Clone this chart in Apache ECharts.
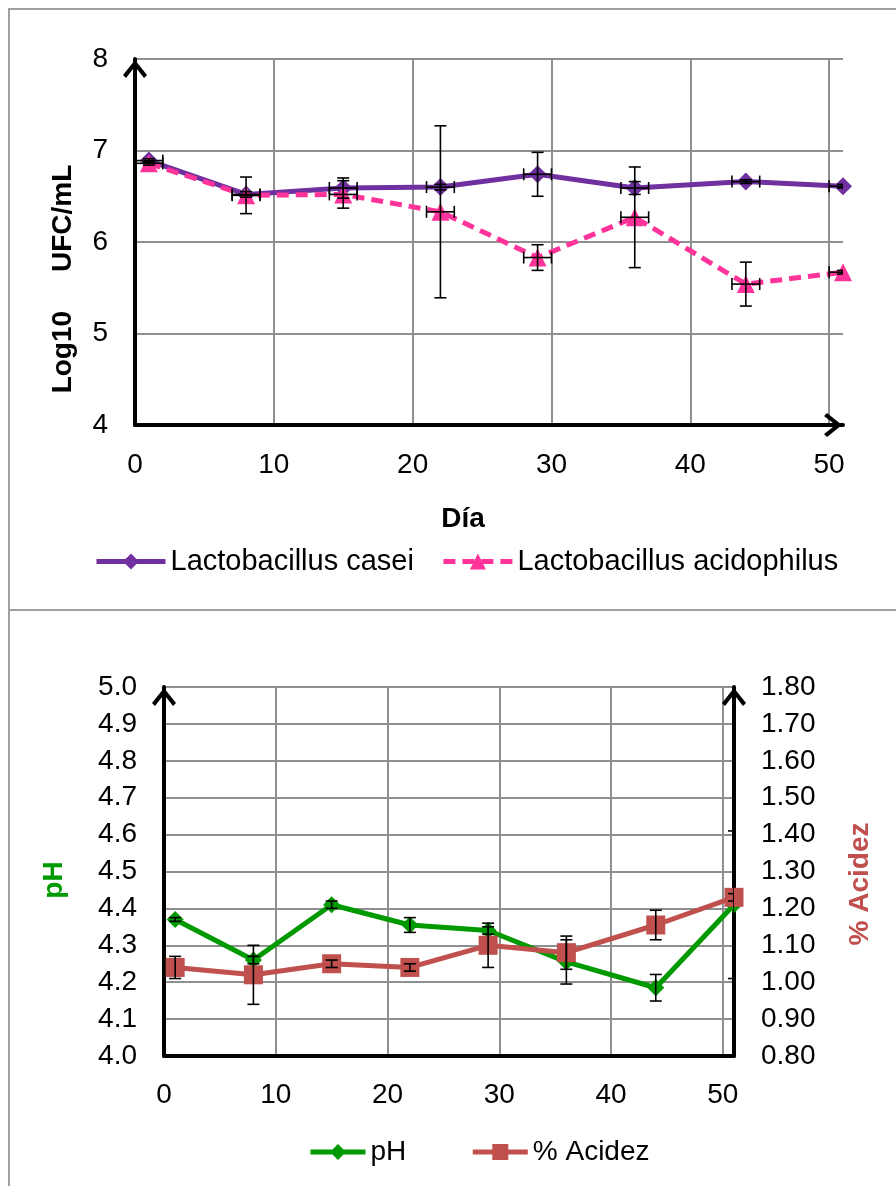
<!DOCTYPE html>
<html>
<head>
<meta charset="utf-8">
<script src="https://cdn.jsdelivr.net/npm/echarts@6/dist/echarts.min.js"></script>
<style>
  html, body { margin: 0; padding: 0; background: #fff; }
  #chart { width: 896px; height: 1186px; }
</style>
</head>
<body>
<div id="chart"></div>
<script>
// days of sampling
var days = [1, 8, 15, 22, 29, 36, 44, 51];
var dayErr = [1, 1, 1, 1, 1, 1, 1, 1];

// Log10 UFC/mL
var casei = [6.89, 6.52, 6.59, 6.60, 6.74, 6.59, 6.66, 6.61];
var caseiErr = [0.02, 0.03, 0.11, 0.03, 0.24, 0.07, 0.02, 0.02];
var acido = [6.86, 6.51, 6.52, 6.33, 5.83, 6.27, 5.54, 5.67];
var acidoErr = [0.02, 0.20, 0.15, 0.94, 0.14, 0.55, 0.24, 0.02];

// pH and % acidez
var ph = [4.37, 4.26, 4.41, 4.355, 4.34, 4.255, 4.185, 4.41];
var phErr = [0.005, 0.01, 0.01, 0.02, 0.01, 0.06, 0.036, 0.2];
var acidez = [1.04, 1.02, 1.05, 1.04, 1.10, 1.08, 1.155, 1.23];
var acidezErr = [0.03, 0.08, 0.01, 0.01, 0.06, 0.045, 0.04, 0.01];

var chart = echarts.init(document.getElementById('chart'));
var FONT = '"Liberation Sans", Arial, sans-serif';
var CHEVRON = 'path://M12,0 L24,15 L21,18 L12,6.5 L3,18 L0,15 Z';

function zip(xs, ys, exs, eys) {
    return xs.map(function (x, i) {
        return exs ? [x, ys[i], exs[i], eys[i]] : [x, ys[i]];
    });
}

// error bars (vertical + horizontal) drawn through the axes
function renderErr(params, api) {
    var x = api.value(0), y = api.value(1), ex = api.value(2), ey = api.value(3);
    var cap = 6;
    var kids = [];
    var st = { stroke: '#000', lineWidth: 1.6 };
    if (ey > 0) {
        var lo = api.coord([x, y - ey]), hi = api.coord([x, y + ey]);
        kids.push({ type: 'line', shape: { x1: lo[0], y1: lo[1], x2: hi[0], y2: hi[1] }, style: st });
        kids.push({ type: 'line', shape: { x1: lo[0] - cap, y1: lo[1], x2: lo[0] + cap, y2: lo[1] }, style: st });
        kids.push({ type: 'line', shape: { x1: hi[0] - cap, y1: hi[1], x2: hi[0] + cap, y2: hi[1] }, style: st });
    }
    if (ex > 0) {
        var l = api.coord([x - ex, y]), r = api.coord([x + ex, y]);
        kids.push({ type: 'line', shape: { x1: l[0], y1: l[1], x2: r[0], y2: r[1] }, style: st });
        kids.push({ type: 'line', shape: { x1: l[0], y1: l[1] - cap, x2: l[0], y2: l[1] + cap }, style: st });
        kids.push({ type: 'line', shape: { x1: r[0], y1: r[1] - cap, x2: r[0], y2: r[1] + cap }, style: st });
    }
    return { type: 'group', children: kids };
}

var zeros = days.map(function () { return 0; });
var gridLine = { show: true, lineStyle: { color: '#8f8f8f', width: 2 } };
var axisBlack = function (arrow) {
    return {
        show: true,
        symbol: arrow ? ['none', CHEVRON] : ['none', 'none'],
        symbolSize: [24, 20],
        symbolOffset: [0, -10],
        lineStyle: { color: '#000', width: 4 }
    };
};
var lbl = { color: '#000', fontSize: 28, fontFamily: FONT };

option = {
    animation: false,
    textStyle: { fontFamily: FONT },
    graphic: [
        { type: 'rect', shape: { x: 9, y: 9, width: 900, height: 601 }, style: { fill: 'none', stroke: '#a0a0a0', lineWidth: 2 }, z: -1 },
        { type: 'rect', shape: { x: 9, y: 610, width: 900, height: 600 }, style: { fill: 'none', stroke: '#a0a0a0', lineWidth: 2 }, z: -1 },
        { type: 'text', x: 63, y: 279, rotation: Math.PI / 2,
          style: { text: 'Log10     UFC/mL', font: 'bold 28px ' + FONT, fill: '#000', align: 'center', verticalAlign: 'middle' } },
        { type: 'text', x: 463, y: 519,
          style: { text: 'Día', font: 'bold 28px ' + FONT, fill: '#000', align: 'center', verticalAlign: 'middle' } },
        { type: 'text', x: 54, y: 880, rotation: Math.PI / 2,
          style: { text: 'pH', font: 'bold 28px ' + FONT, fill: '#009900', align: 'center', verticalAlign: 'middle' } },
        { type: 'text', x: 860, y: 884, rotation: Math.PI / 2,
          style: { text: '% Acidez', font: 'bold 28px ' + FONT, fill: '#C0504D', align: 'center', verticalAlign: 'middle' } }
    ],
    legend: [{
        data: ['Lactobacillus casei', 'Lactobacillus acidophilus'],
        left: 94, top: 547, padding: 0,
        itemWidth: 69, itemHeight: 20, itemGap: 27,
        lineStyle: { width: 5 },
        textStyle: { fontSize: 29, color: '#000', fontFamily: FONT }
    }, {
        data: ['pH', '% Acidez'],
        left: 308, top: 1138, padding: 0,
        itemWidth: 55, itemHeight: 20, itemGap: 64,
        lineStyle: { width: 5 },
        textStyle: { fontSize: 28, color: '#000', fontFamily: FONT }
    }],
    grid: [
        { left: 135, top: 59, width: 708, height: 366, outerBoundsMode: 'none' },
        { left: 164, top: 687, width: 570, height: 369, outerBoundsMode: 'none' }
    ],
    xAxis: [{
        gridIndex: 0, type: 'value', min: 0, max: 51, interval: 10,
        axisLine: axisBlack(true), axisTick: { show: false },
        axisLabel: Object.assign({ margin: 26, showMaxLabel: false }, lbl),
        splitLine: Object.assign({ showMinLine: false, showMaxLine: false }, gridLine)
    }, {
        gridIndex: 1, type: 'value', min: 0, max: 51, interval: 10,
        axisLine: axisBlack(false), axisTick: { show: false },
        axisLabel: Object.assign({ margin: 25, showMaxLabel: false }, lbl),
        splitLine: Object.assign({ showMinLine: false, showMaxLine: false }, gridLine)
    }],
    yAxis: [{
        gridIndex: 0, type: 'value', min: 4, max: 8, interval: 1,
        axisLine: axisBlack(true), axisTick: { show: false },
        axisLabel: Object.assign({ margin: 27 }, lbl),
        splitLine: Object.assign({ showMinLine: false }, gridLine)
    }, {
        gridIndex: 1, type: 'value', min: 4.0, max: 5.0, interval: 0.1,
        axisLine: axisBlack(true), axisTick: { show: false },
        axisLabel: Object.assign({ margin: 27, formatter: function (v) { return v.toFixed(1); } }, lbl),
        splitLine: Object.assign({ showMinLine: false }, gridLine)
    }, {
        gridIndex: 1, type: 'value', position: 'right', min: 0.8, max: 1.8, interval: 0.1,
        axisLine: axisBlack(true), axisTick: { show: false },
        axisLabel: Object.assign({ margin: 27, formatter: function (v) { return v.toFixed(2); } }, lbl),
        splitLine: { show: false }
    }],
    series: [{
        name: 'Lactobacillus casei', type: 'line', xAxisIndex: 0, yAxisIndex: 0,
        data: zip(days, casei),
        symbol: 'diamond', symbolSize: 18,
        lineStyle: { color: '#7030A0', width: 5 },
        itemStyle: { color: '#7030A0' }
    }, {
        name: 'Lactobacillus acidophilus', type: 'line', xAxisIndex: 0, yAxisIndex: 0,
        data: zip(days, acido),
        symbol: 'triangle', symbolSize: 18,
        lineStyle: { color: '#FF3399', width: 5, type: [12, 7] },
        itemStyle: { color: '#FF3399' }
    }, {
        type: 'custom', xAxisIndex: 0, yAxisIndex: 0, clip: true, z: 5,
        renderItem: renderErr, data: zip(days, casei, dayErr, caseiErr)
    }, {
        type: 'custom', xAxisIndex: 0, yAxisIndex: 0, clip: true, z: 5,
        renderItem: renderErr, data: zip(days, acido, dayErr, acidoErr)
    }, {
        name: 'pH', type: 'line', xAxisIndex: 1, yAxisIndex: 1,
        data: zip(days, ph),
        symbol: 'diamond', symbolSize: 17,
        lineStyle: { color: '#009900', width: 5 },
        itemStyle: { color: '#009900' }
    }, {
        name: '% Acidez', type: 'line', xAxisIndex: 1, yAxisIndex: 2,
        data: zip(days, acidez),
        symbol: 'rect', symbolSize: 19,
        lineStyle: { color: '#C0504D', width: 5 },
        itemStyle: { color: '#C0504D' }
    }, {
        type: 'custom', xAxisIndex: 1, yAxisIndex: 1, clip: true, z: 5,
        renderItem: renderErr, data: zip(days, ph, zeros, phErr)
    }, {
        type: 'custom', xAxisIndex: 1, yAxisIndex: 2, clip: true, z: 5,
        renderItem: renderErr, data: zip(days, acidez, zeros, acidezErr)
    }]
};
chart.setOption(option);
</script>
</body>
</html>
